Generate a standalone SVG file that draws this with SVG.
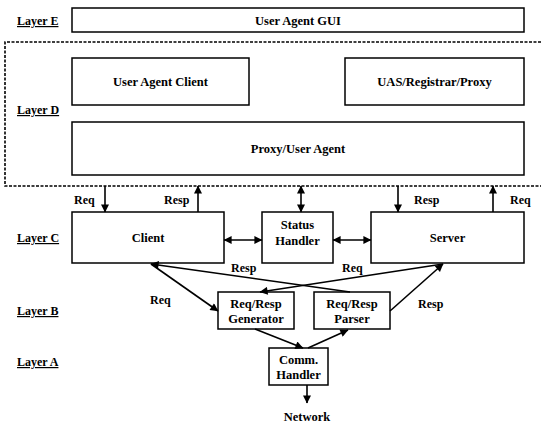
<svg xmlns="http://www.w3.org/2000/svg" width="541" height="424" viewBox="0 0 541 424">
<style>
.box{fill:#fff;stroke:#000;stroke-width:1.5}
.t{font-family:"Liberation Serif","Times New Roman",serif;font-weight:bold;font-size:12.5px;fill:#000;text-anchor:middle}
.lab{font-family:"Liberation Serif","Times New Roman",serif;font-weight:bold;font-size:12px;fill:#000;text-decoration:underline}
.sm{font-family:"Liberation Serif","Times New Roman",serif;font-weight:bold;font-size:12px;fill:#000}
.ln{stroke:#000;stroke-width:1.6;fill:none}
.dot{stroke:#000;stroke-width:1.6;fill:none;stroke-dasharray:3 1.5}
</style>
<defs>
<marker id="ah" viewBox="0 0 10 10" refX="9.5" refY="5" markerWidth="9" markerHeight="8" markerUnits="userSpaceOnUse" orient="auto-start-reverse">
<path d="M0,0 L10,5 L0,10 Z" fill="#000"/>
</marker>
</defs>
<rect width="541" height="424" fill="#fff"/>
<g id="layer-labels">
<text class="lab" x="17" y="25">Layer E</text>
<text class="lab" x="17" y="114">Layer D</text>
<text class="lab" x="17" y="242">Layer C</text>
<text class="lab" x="17" y="315">Layer B</text>
<text class="lab" x="17" y="366">Layer A</text>
</g>
<g id="layer-d-frame">
<path class="dot" d="M541,42 H5 V186 H541"/>
</g>
<g id="gui"><rect class="box" x="72" y="8" width="452" height="24"/><text class="t" x="298" y="24.5">User Agent GUI</text></g>
<g id="uac"><rect class="box" x="72" y="58" width="177" height="47"/><text class="t" x="160.5" y="86">User Agent Client</text></g>
<g id="uas"><rect class="box" x="345" y="58" width="179" height="47"/><text class="t" x="434.5" y="86">UAS/Registrar/Proxy</text></g>
<g id="proxy"><rect class="box" x="72" y="122" width="452" height="53"/><text class="t" x="298" y="153">Proxy/User Agent</text></g>
<g id="client"><rect class="box" x="72" y="212" width="152" height="51"/><text class="t" x="148" y="242">Client</text></g>
<g id="status"><rect class="box" x="262" y="212" width="71" height="51"/><text class="t" x="297.5" y="229">Status</text><text class="t" x="297.5" y="245">Handler</text></g>
<g id="server"><rect class="box" x="371" y="212" width="153" height="51"/><text class="t" x="447.5" y="242">Server</text></g>
<g id="generator"><rect class="box" x="218" y="292" width="76" height="37"/><text class="t" x="256" y="308">Req/Resp</text><text class="t" x="256" y="323">Generator</text></g>
<g id="parser"><rect class="box" x="314" y="292" width="76" height="37"/><text class="t" x="352" y="308">Req/Resp</text><text class="t" x="352" y="323">Parser</text></g>
<g id="comm"><rect class="box" x="269" y="348" width="59" height="37"/><text class="t" x="298.5" y="364">Comm.</text><text class="t" x="298.5" y="379">Handler</text></g>
<g id="network"><text class="t" x="307" y="421">Network</text></g>
<g id="connectors">
<line class="ln" x1="105" y1="186" x2="105" y2="212" marker-end="url(#ah)"/>
<line class="ln" x1="198" y1="212" x2="198" y2="186" marker-end="url(#ah)"/>
<line class="ln" x1="301" y1="186" x2="301" y2="212" marker-start="url(#ah)" marker-end="url(#ah)"/>
<line class="ln" x1="398" y1="186" x2="398" y2="212" marker-end="url(#ah)"/>
<line class="ln" x1="493" y1="212" x2="493" y2="186" marker-end="url(#ah)"/>
<line class="ln" x1="224" y1="240" x2="262" y2="240" marker-start="url(#ah)" marker-end="url(#ah)"/>
<line class="ln" x1="333" y1="240" x2="371" y2="240" marker-start="url(#ah)" marker-end="url(#ah)"/>
<line class="ln" x1="151" y1="264" x2="218" y2="311" marker-end="url(#ah)"/>
<line class="ln" x1="350" y1="292" x2="151" y2="264" marker-end="url(#ah)"/>
<line class="ln" x1="443" y1="264" x2="260" y2="292" marker-end="url(#ah)"/>
<line class="ln" x1="390" y1="311" x2="443" y2="264" marker-end="url(#ah)"/>
<line class="ln" x1="255" y1="329" x2="303" y2="348" marker-end="url(#ah)"/>
<line class="ln" x1="308" y1="348" x2="348" y2="330" marker-end="url(#ah)"/>
<line class="ln" x1="307" y1="385" x2="307" y2="403" marker-end="url(#ah)"/>
<text class="sm" x="74" y="204">Req</text>
<text class="sm" x="164" y="204">Resp</text>
<text class="sm" x="414" y="204">Resp</text>
<text class="sm" x="510" y="204">Req</text>
<text class="sm" x="231" y="272">Resp</text>
<text class="sm" x="342" y="272">Req</text>
<text class="sm" x="150" y="304">Req</text>
<text class="sm" x="418" y="308">Resp</text>
</g>
</svg>
